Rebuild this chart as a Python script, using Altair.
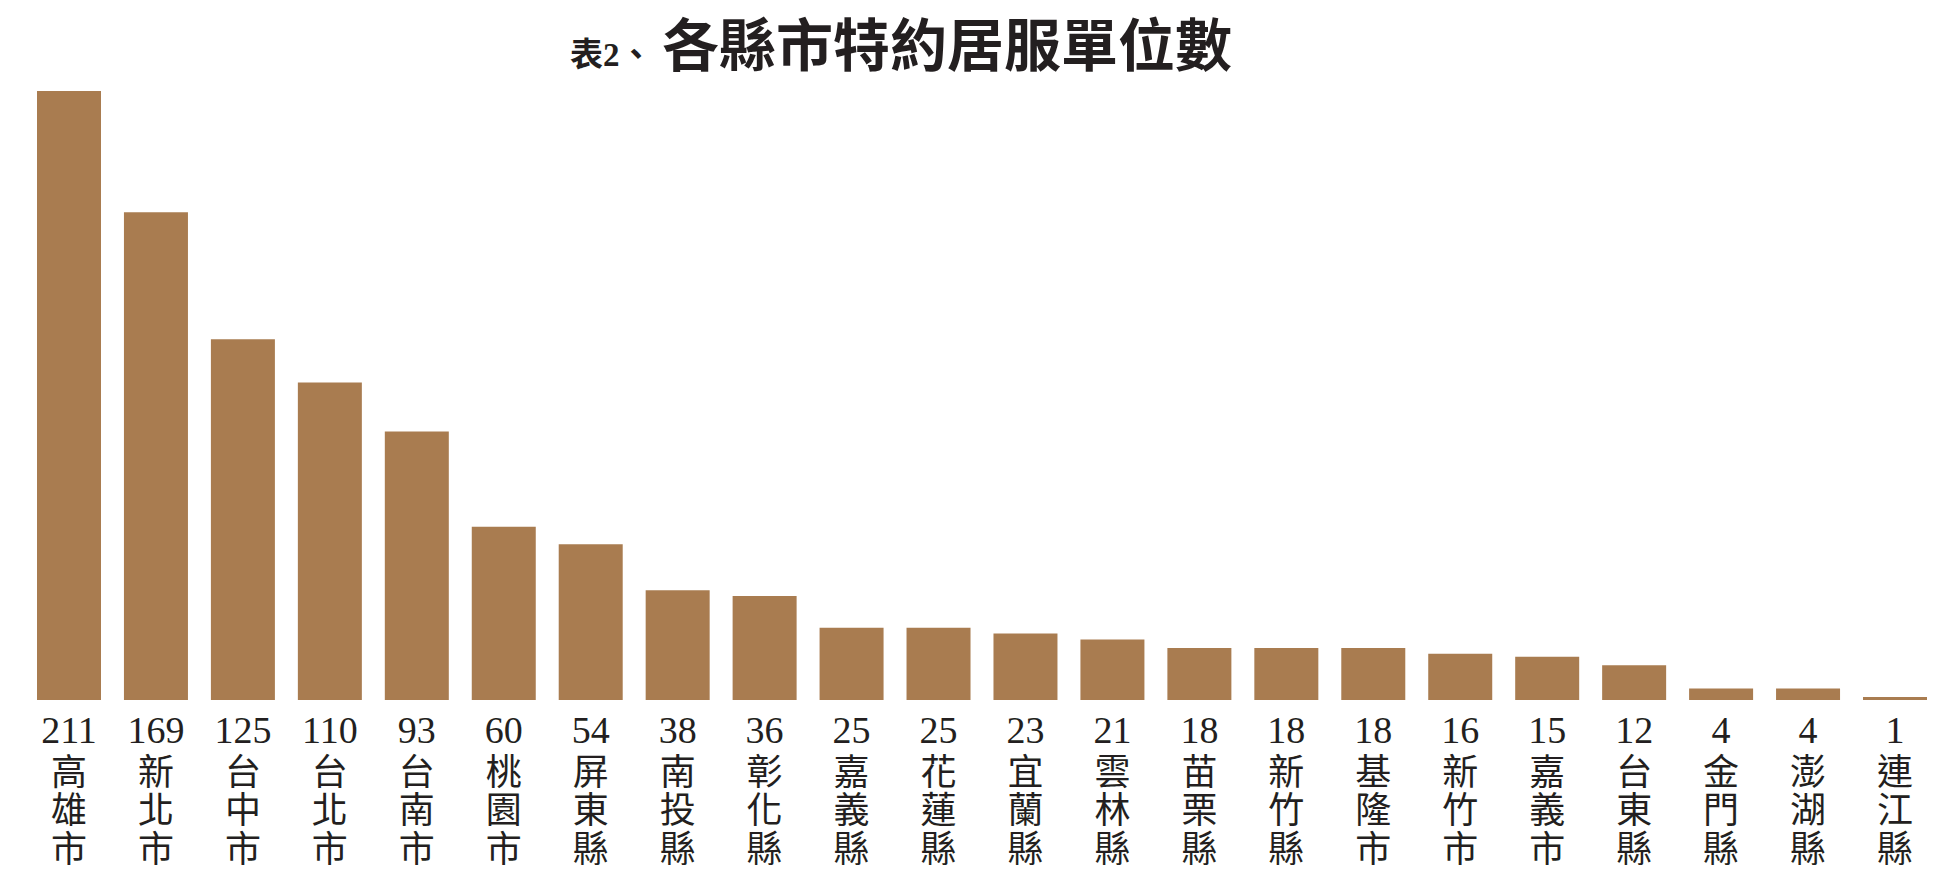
import altair as alt
import pandas as pd

cities = ["高雄市", "新北市", "台中市", "台北市", "台南市", "桃園市", "屏東縣", "南投縣",
          "彰化縣", "嘉義縣", "花蓮縣", "宜蘭縣", "雲林縣", "苗栗縣", "新竹縣", "基隆市",
          "新竹市", "嘉義市", "台東縣", "金門縣", "澎湖縣", "連江縣"]
values = [211, 169, 125, 110, 93, 60, 54, 38, 36, 25, 25, 23, 21, 18, 18, 18, 16, 15, 12, 4, 4, 1]
title_prefix = "表2、"
title_main = "各縣市特約居服單位數"

df = pd.DataFrame({"city": cities, "value": values})

BAR = "#A97C50"
TXT = "#231F20"

xenc = alt.X(
    "city:N",
    sort=None,
    scale=alt.Scale(paddingInner=0.264, paddingOuter=0),
    axis=alt.Axis(
        title=None,
        labelAngle=0,
        ticks=False,
        tickSize=0,
        domain=False,
        labelExpr="split(datum.label, '')",
        labelFont="Noto Sans CJK TC",
        labelFontSize=36,
        labelLineHeight=38.5,
        labelPadding=56,
        labelColor=TXT,
    ),
)

base = alt.Chart(df)

bars = base.mark_bar(color=BAR).encode(
    x=xenc,
    y=alt.Y("value:Q", scale=alt.Scale(domain=[0, 211], nice=False, zero=True), axis=None),
)

nums = base.mark_text(
    baseline="alphabetic", align="center", dy=43, fontSize=38,
    font="Liberation Serif", color=TXT,
).encode(
    x=alt.X("city:N", sort=None),
    y=alt.datum(0),
    text="value:Q",
)

t_prefix = alt.Chart(pd.DataFrame({"t": [title_prefix]})).mark_text(
    align="left", baseline="alphabetic", fontSize=33, fontWeight="bold",
    font="Liberation Serif, Noto Sans CJK TC", color=TXT,
).encode(text="t:N", x=alt.value(533), y=alt.value(-25))

t_main = alt.Chart(pd.DataFrame({"t": [title_main]})).mark_text(
    align="left", baseline="alphabetic", fontSize=57, fontWeight="bold",
    font="Noto Sans CJK TC", color=TXT,
).encode(text="t:N", x=alt.value(625), y=alt.value(-25))

chart = alt.layer(bars, nums, t_prefix, t_main).properties(
    width=1890,
    height=609,
    padding={"left": 29, "top": 83, "right": 17, "bottom": 170},
    autosize=alt.AutoSizeParams(type="none"),
    background="white",
).configure_view(stroke=None)

chart.save("out.html", embed_options={"renderer": "svg", "actions": False})
